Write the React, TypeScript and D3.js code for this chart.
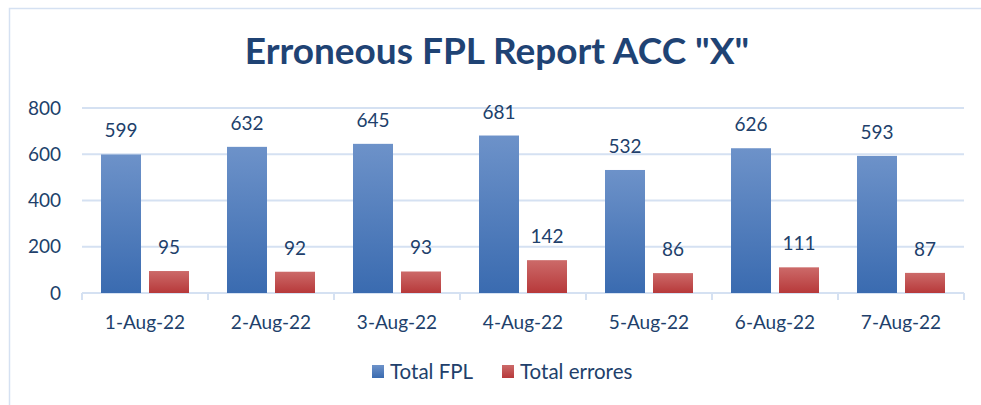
import React, { useEffect, useRef } from "react";
import * as d3 from "d3";

const dates = ["1-Aug-22", "2-Aug-22", "3-Aug-22", "4-Aug-22", "5-Aug-22", "6-Aug-22", "7-Aug-22"];
const totalFpl = [599, 632, 645, 681, 532, 626, 593];
const totalErrors = [95, 92, 93, 142, 86, 111, 87];
const seriesNames = ["Total FPL", "Total errores"];
const yTicks = [0, 200, 400, 600, 800];

const textColor = "#213f6b";
const gridColor = "#d5e1f2";
const font = "Lato, 'Open Sans', sans-serif";

export default function App() {
  const ref = useRef<SVGSVGElement>(null);

  useEffect(() => {
    const width = 981;
    const height = 405;
    const marginLeft = 82;
    const marginRight = 17;
    const plotTop = 108;
    const plotBottom = 293;

    const svg = d3.select(ref.current);
    svg.selectAll("*").remove();
    svg.attr("width", width).attr("height", height).attr("viewBox", [0, 0, width, height]);

    // gradients for the bars
    const defs = svg.append("defs");
    const grads = [
      { id: "gBlue", top: "#6d92c9", bottom: "#3a6bb0" },
      { id: "gRed", top: "#cc6a69", bottom: "#b7393a" },
    ];
    grads.forEach((g) => {
      const lg = defs.append("linearGradient").attr("id", g.id).attr("x1", 0).attr("y1", 0).attr("x2", 0).attr("y2", 1);
      lg.append("stop").attr("offset", "0%").attr("stop-color", g.top);
      lg.append("stop").attr("offset", "100%").attr("stop-color", g.bottom);
    });

    // outer chart border
    svg
      .append("rect")
      .attr("x", 9.5)
      .attr("y", 8.5)
      .attr("width", 1000)
      .attr("height", 450)
      .attr("fill", "white")
      .attr("stroke", gridColor)
      .attr("stroke-width", 1.5);

    const x = d3.scaleBand<string>().domain(dates).range([marginLeft, width - marginRight]);
    const inner = d3
      .scaleBand<string>()
      .domain(seriesNames)
      .range([19, x.bandwidth() - 19])
      .paddingInner(8 / 48);
    const y = d3.scaleLinear([0, 800], [plotBottom, plotTop]);

    // title
    svg
      .append("text")
      .attr("x", 497)
      .attr("y", 64)
      .attr("text-anchor", "middle")
      .attr("font-family", font)
      .attr("font-weight", "bold")
      .attr("font-size", 37)
      .attr("fill", "#1f4374")
      .text('Erroneous FPL Report ACC "X"');

    // gridlines + y labels
    const yAxis = svg.append("g");
    yAxis
      .selectAll("line")
      .data(yTicks)
      .join("line")
      .attr("x1", marginLeft)
      .attr("x2", width - marginRight)
      .attr("y1", (d) => y(d))
      .attr("y2", (d) => y(d))
      .attr("stroke", gridColor)
      .attr("stroke-width", 2);
    yAxis
      .selectAll("text")
      .data(yTicks)
      .join("text")
      .attr("x", 61)
      .attr("y", (d) => y(d))
      .attr("dy", "0.35em")
      .attr("text-anchor", "end")
      .attr("font-family", font)
      .attr("font-size", 19)
      .attr("fill", textColor)
      .text((d) => d);

    // x tick marks
    const bounds = [...dates.map((d) => x(d) as number), width - marginRight];
    svg
      .append("g")
      .selectAll("line")
      .data(bounds)
      .join("line")
      .attr("x1", (d) => d)
      .attr("x2", (d) => d)
      .attr("y1", plotBottom)
      .attr("y2", plotBottom + 7)
      .attr("stroke", gridColor)
      .attr("stroke-width", 2);

    // bars
    const rows = dates.map((d, i) => ({ date: d, vals: [totalFpl[i], totalErrors[i]] }));
    const groups = svg
      .append("g")
      .selectAll("g")
      .data(rows)
      .join("g")
      .attr("transform", (d) => `translate(${x(d.date)},0)`);

    seriesNames.forEach((s, si) => {
      groups
        .append("rect")
        .attr("x", inner(s) as number)
        .attr("width", inner.bandwidth())
        .attr("y", (d) => y(d.vals[si]))
        .attr("height", (d) => y(0) - y(d.vals[si]))
        .attr("fill", `url(#${grads[si].id})`);
      groups
        .append("text")
        .attr("x", (inner(s) as number) + inner.bandwidth() / 2)
        .attr("y", (d) => y(d.vals[si]) - 17)
        .attr("text-anchor", "middle")
        .attr("font-family", font)
        .attr("font-size", 19)
        .attr("fill", textColor)
        .text((d) => d.vals[si]);
    });

    // x labels
    svg
      .append("g")
      .selectAll("text")
      .data(dates)
      .join("text")
      .attr("x", (d) => (x(d) as number) + x.bandwidth() / 2)
      .attr("y", 329)
      .attr("text-anchor", "middle")
      .attr("font-family", font)
      .attr("font-size", 19)
      .attr("fill", textColor)
      .text((d) => d);

    // legend
    const legendX = [372, 502];
    const legend = svg
      .append("g")
      .selectAll("g")
      .data(seriesNames)
      .join("g")
      .attr("transform", (d, i) => `translate(${legendX[i]},365)`);
    legend
      .append("rect")
      .attr("width", 12)
      .attr("height", 13)
      .attr("fill", (d, i) => `url(#${grads[i].id})`);
    legend
      .append("text")
      .attr("x", 18)
      .attr("y", 14)
      .attr("font-family", font)
      .attr("font-size", 20.5)
      .attr("fill", textColor)
      .text((d) => d);
  }, []);

  return <svg ref={ref} style={{ position: "absolute", left: 0, top: 0, display: "block" }} />;
}
